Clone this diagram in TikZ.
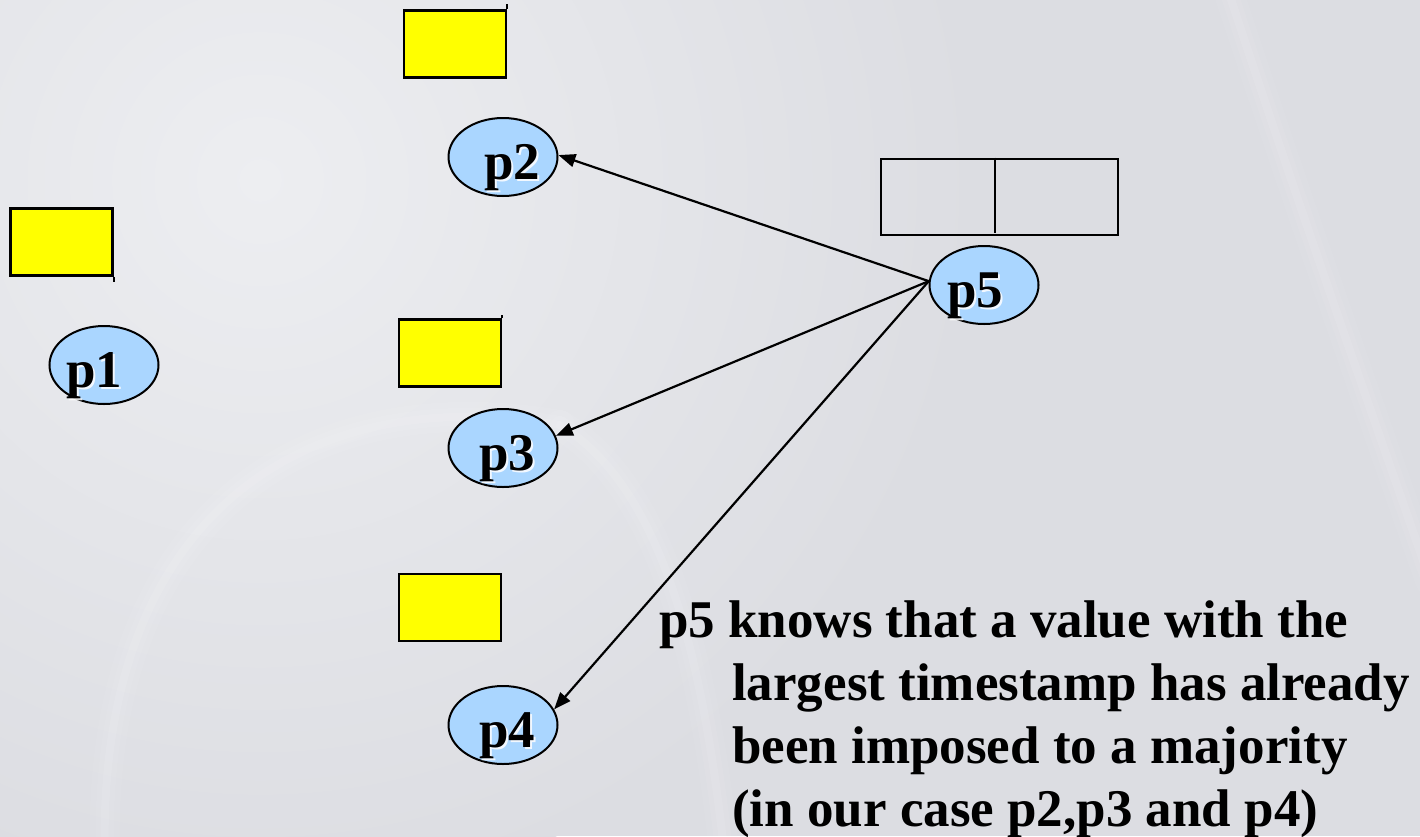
\documentclass[tikz,border=0pt]{standalone}
\usepackage{fontspec}
\setmainfont{Liberation Serif}
\usetikzlibrary{shapes.geometric,arrows.meta}

\definecolor{bgbase}{RGB}{220,221,226}
\definecolor{bglight}{RGB}{237,238,241}
\definecolor{procblue}{RGB}{170,214,255}
\definecolor{stampyellow}{RGB}{255,255,0}

\tikzset{
  procnode/.style={ellipse, draw=black, line width=2pt, fill=procblue,
    minimum width=109pt, minimum height=78pt, inner sep=0pt},
  proclabel/.style={anchor=base, inner sep=0pt,
    font=\fontsize{53}{63}\selectfont\bfseries},
  procshadow/.style={proclabel, text=white, opacity=0.85},
  stampbox/.style={rectangle, draw=black, line width=2.5pt, fill=stampyellow,
    minimum width=102pt, minimum height=67pt, inner sep=0pt},
  regbox/.style={rectangle, draw=black, line width=2pt,
    minimum width=237pt, minimum height=76pt, inner sep=0pt},
  msgarrow/.style={draw=black, line width=2.2pt,
    -{Triangle[length=17pt,width=13pt]}},
  notetext/.style={anchor=base west, inner sep=0pt,
    font=\fontsize{53}{63.6}\selectfont\bfseries},
  swoosh/.style={white, line cap=round},
}

\begin{document}
\begin{tikzpicture}[x=1pt,y=-1pt]
  \useasboundingbox (0,0) rectangle (1420,836);

  % slide background
  \begin{scope}
    \clip (0,0) rectangle (1420,836);
    \fill[bgbase] (0,0) rectangle (1420,836);
    \shade[inner color=bglight, outer color=bgbase] (260,180) circle (720);
    \foreach \w/\o in {30/0.05,18/0.06,8/0.09}{
      \draw[swoosh, line width=\w pt, opacity=\o]
        (105,860) .. controls (95,520) and (300,380) .. (560,425);
      \draw[swoosh, line width=\w pt, opacity=\o]
        (560,425) .. controls (650,480) and (700,620) .. (725,860);
      \draw[swoosh, line width=\w pt, opacity=\o]
        (1228,-10) .. controls (1290,180) and (1360,380) .. (1430,580);
    }
  \end{scope}

  % yellow timestamp boxes
  \node[stampbox] (b2) at (455,44) {};
  \node[stampbox] (b1) at (61.5,242) {};
  \node[stampbox] (b3) at (450,353) {};
  \node[stampbox] (b4) at (450,607.5) {};
  \draw[line width=2pt] (b2.north east) -- ++(0,-5);
  \draw[line width=2pt] (b1.south east) -- ++(0,5);
  \draw[line width=2pt] (b3.north east) -- ++(0,-3);

  % two-cell register above p5
  \node[regbox] (reg) at (999.5,196.5) {};
  \draw[line width=2pt] ([xshift=-5pt]reg.north) -- ([xshift=-5pt,yshift=3pt]reg.south);

  % processes
  \node[procnode] (p1) at (104,365) {};
  \node[procnode] (p2) at (503,157) {};
  \node[procnode] (p3) at (503,448) {};
  \node[procnode] (p4) at (503,725) {};
  \node[procnode] (p5) at (984,285) {};

  \node[procshadow] (p1s) at (96.5,389.5) {p1};
  \node[proclabel]  (p1t) at (94,387) {p1};
  \node[procshadow] (p2s) at (514.5,181.5) {p2};
  \node[proclabel]  (p2t) at (512,179) {p2};
  \node[procshadow] (p3s) at (509.5,472.5) {p3};
  \node[proclabel]  (p3t) at (507,470) {p3};
  \node[procshadow] (p4s) at (509.5,749.5) {p4};
  \node[proclabel]  (p4t) at (507,747) {p4};
  \node[procshadow] (p5s) at (977.5,309.5) {p5};
  \node[proclabel]  (p5t) at (975,307) {p5};

  % messages from p5
  \draw[msgarrow] (p5.176) -- (p2.2);
  \draw[msgarrow] (p5.176) -- (p3.13);
  \draw[msgarrow] (p5.176) -- (p4.17);

  % explanation
  \node[notetext] (n1) at (659,637) {p5 knows that a value with the};
  \node[notetext] (n2) at (732,700) {largest timestamp has already};
  \node[notetext] (n3) at (732,763) {been imposed to a majority};
  \node[notetext] (n4) at (732,826) {(in our case p2,p3 and p4)};
\end{tikzpicture}
\end{document}
